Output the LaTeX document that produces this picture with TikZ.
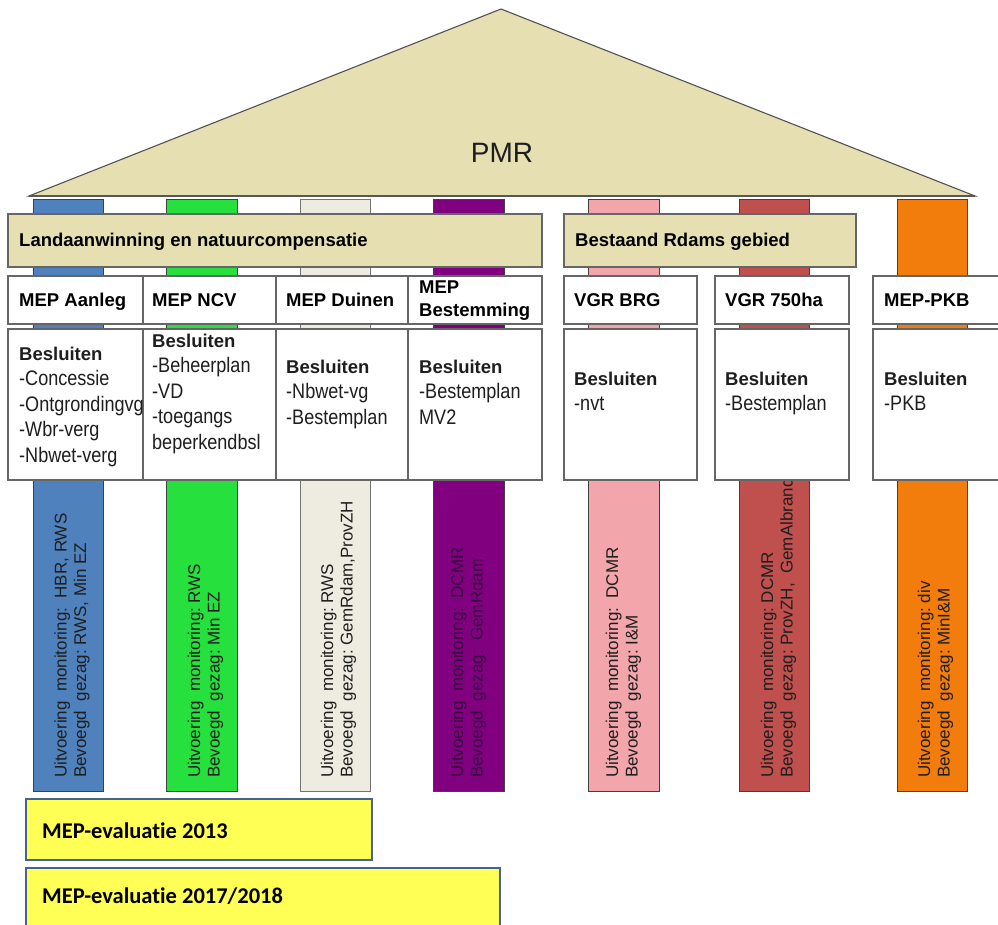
\documentclass[tikz,border=0pt]{standalone}
\usepackage{fontspec}
\usepackage{graphicx}
\setmainfont{Liberation Sans}
\newfontfamily\carl[Ligatures=NoCommon]{Carlito}
\definecolor{roofTan}{HTML}{E6DFB2}
\definecolor{edgeGray}{HTML}{666666}
\definecolor{cBlue}{HTML}{4F81BD}
\definecolor{cGreen}{HTML}{25E03D}
\definecolor{cBeige}{HTML}{EEECE1}
\definecolor{cPurple}{HTML}{800080}
\definecolor{cPink}{HTML}{F2A5AB}
\definecolor{cRed}{HTML}{C0504D}
\definecolor{cOrange}{HTML}{F27C0C}
\definecolor{evYellow}{HTML}{FFFF55}
\definecolor{evBlue}{HTML}{44638F}
\definecolor{txtDark}{HTML}{1E1E1E}
\definecolor{purpText}{HTML}{3A0840}
\newcommand\nar[1]{\scalebox{0.86}[1]{\fontsize{21}{25.5}\selectfont #1}}
\newcommand\bsl{{\bfseries Besluiten}}
\begin{document}
\begin{tikzpicture}[x=1pt,y=-1pt,
  pillarbox/.style={draw=#1, line width=0.9pt, anchor=north west, minimum width=70, minimum height=592, inner sep=0},
  ptext/.style={rotate=90, anchor=base west, inner sep=0, text=txtDark, font=\fontsize{17}{19.5}\selectfont},
  roofshape/.style={fill=roofTan, draw=edgeGray!80!black, line width=1.1pt, line join=miter},
  bannerbox/.style={fill=roofTan, draw=edgeGray, line width=1.5pt, anchor=north west, minimum height=53, inner sep=0},
  namebox/.style={fill=white, draw=edgeGray, line width=1.5pt, anchor=north west, minimum height=48, inner sep=0},
  decbox/.style={fill=white, draw=edgeGray, line width=1.5pt, anchor=north west, minimum height=151, inner sep=0},
  boldtxt/.style={anchor=base west, inner sep=0, font=\fontsize{18.5}{24}\selectfont\bfseries},
  dectxt/.style={anchor=base west, inner sep=0, text=txtDark, font=\fontsize{18.5}{25.5}\selectfont},
  evalbox/.style={fill=evYellow, draw=evBlue, line width=2pt, anchor=north west, inner sep=0},
  evaltxt/.style={anchor=base west, inner sep=0, font=\fontsize{22.5}{27}\carl\bfseries}
]
\useasboundingbox (0,0) rectangle (998,924);
\clip (0,0) rectangle (998,924);

% pillars
\node[pillarbox=black!75, fill=cBlue, minimum width=70] (p1) at (33,199) {};
\node[pillarbox=black!75, fill=cGreen, minimum width=71] (p2) at (166,199) {};
\node[pillarbox=black!55, fill=cBeige, minimum width=70] (p3) at (300,199) {};
\node[pillarbox=black!75, fill=cPurple, minimum width=71] (p4) at (433,199) {};
\node[pillarbox=black!75, fill=cPink, minimum width=71] (p5) at (588,199) {};
\node[pillarbox=black!75, fill=cRed, minimum width=70] (p6) at (739,199) {};
\node[pillarbox=black!75, fill=cOrange, minimum width=70] (p7) at (897,199) {};

% pillar texts
\node[ptext] (t1) at (66.5,778) {\begin{tabular}[t]{@{}l@{}}Uitvoering\ \ monitoring:\ \ HBR,\ RWS\\Bevoegd\ \ gezag:\ RWS,\ Min EZ\end{tabular}};
\node[ptext] (t2) at (200,778) {\begin{tabular}[t]{@{}l@{}}Uitvoering\ \ monitoring:\ RWS\\Bevoegd\ \ gezag:\ Min EZ\end{tabular}};
\node[ptext] (t3) at (333,778) {\begin{tabular}[t]{@{}l@{}}Uitvoering\ \ monitoring:\ RWS\\Bevoegd\ \ gezag:\ GemRdam,ProvZH\end{tabular}};
\node[ptext, text=purpText] (t4) at (463,778) {\begin{tabular}[t]{@{}l@{}}Uitvoering\ \ monitoring:\ \ DCMR\\Bevoegd\ \ gezag:\ \ GemRdam\end{tabular}};
\node[ptext] (t5) at (618,778) {\begin{tabular}[t]{@{}l@{}}Uitvoering\ \ monitoring:\ \ DCMR\\Bevoegd\ \ gezag:\ I\&M\end{tabular}};
\node[ptext] (t6) at (773,778) {\begin{tabular}[t]{@{}l@{}}Uitvoering\ \ monitoring:\ DCMR\\Bevoegd\ \ gezag:\ ProvZH,\ \ GemAlbrandswaard\end{tabular}};
\node[ptext] (t7) at (930,778) {\begin{tabular}[t]{@{}l@{}}Uitvoering\ \ monitoring:\ div\\Bevoegd\ \ gezag:\ MinI\&M\end{tabular}};

% roof
\draw[roofshape] (29,196) -- (501,9) -- (975,196) -- cycle;
\draw[draw=edgeGray!85!black, line width=2.4pt] (29,196) -- (975,196);
\node[anchor=base, inner sep=0, text=txtDark, font=\fontsize{28}{32}\selectfont] (pmr) at (502,162) {PMR};

% banners
\node[bannerbox, minimum width=534] (b1) at (7,213) {};
\node[bannerbox, minimum width=292] (b2) at (563,213) {};
\node[boldtxt] (b1t) at (19,246) {Landaanwinning en natuurcompensatie};
\node[boldtxt] (b2t) at (575,246) {Bestaand Rdams gebied};

% name boxes
\node[namebox, minimum width=135] (n1) at (7,275) {};
\node[namebox, minimum width=133] (n2) at (142,275) {};
\node[namebox, minimum width=132] (n3) at (275,275) {};
\node[namebox, minimum width=134] (n4) at (407,275) {};
\node[namebox, minimum width=133] (n5) at (563,275) {};
\node[namebox, minimum width=134] (n6) at (714,275) {};
\node[namebox, minimum width=140] (n7) at (872,275) {};
\node[boldtxt] (n1t) at (19,306) {MEP Aanleg};
\node[boldtxt] (n2t) at (152,306) {MEP NCV};
\node[boldtxt] (n3t) at (286,306) {MEP Duinen};
\node[boldtxt] (n4t) at (419,293) {\begin{tabular}[t]{@{}l@{}}MEP\\[-0.5pt]Bestemming\end{tabular}};
\node[boldtxt] (n5t) at (574,306) {VGR BRG};
\node[boldtxt] (n6t) at (725,306) {VGR 750ha};
\node[boldtxt] (n7t) at (884,306) {MEP-PKB};

% decision boxes
\node[decbox, minimum width=135] (d1) at (7,328) {};
\node[decbox, minimum width=133] (d2) at (142,328) {};
\node[decbox, minimum width=132] (d3) at (275,328) {};
\node[decbox, minimum width=134] (d4) at (407,328) {};
\node[decbox, minimum width=133] (d5) at (563,328) {};
\node[decbox, minimum width=134] (d6) at (714,328) {};
\node[decbox, minimum width=140] (d7) at (872,328) {};
\node[dectxt] (d1t) at (19,360) {\begin{tabular}[t]{@{}l@{}}\bsl\\\nar{-Concessie}\\\nar{-Ontgrondingvg}\\\nar{-Wbr-verg}\\\nar{-Nbwet-verg}\end{tabular}};
\node[dectxt] (d2t) at (152,347) {\begin{tabular}[t]{@{}l@{}}\bsl\\\nar{-Beheerplan}\\\nar{-VD}\\\nar{-toegangs}\\\nar{beperkendbsl}\end{tabular}};
\node[dectxt] (d3t) at (286,373) {\begin{tabular}[t]{@{}l@{}}\bsl\\\nar{-Nbwet-vg}\\\nar{-Bestemplan}\end{tabular}};
\node[dectxt] (d4t) at (419,373) {\begin{tabular}[t]{@{}l@{}}\bsl\\\nar{-Bestemplan}\\\nar{MV2}\end{tabular}};
\node[dectxt] (d5t) at (574,385) {\begin{tabular}[t]{@{}l@{}}\bsl\\\nar{-nvt}\end{tabular}};
\node[dectxt] (d6t) at (725,385) {\begin{tabular}[t]{@{}l@{}}\bsl\\\nar{-Bestemplan}\end{tabular}};
\node[dectxt] (d7t) at (884,385) {\begin{tabular}[t]{@{}l@{}}\bsl\\\nar{-PKB}\end{tabular}};

% evaluation bars
\node[evalbox, minimum width=346, minimum height=61] (e1) at (25,798) {};
\node[evalbox, minimum width=474, minimum height=70] (e2) at (25,867) {};
\node[evaltxt] (e1t) at (42,838) {MEP-evaluatie 2013};
\node[evaltxt] (e2t) at (42,903) {MEP-evaluatie 2017/2018};
\end{tikzpicture}
\end{document}
